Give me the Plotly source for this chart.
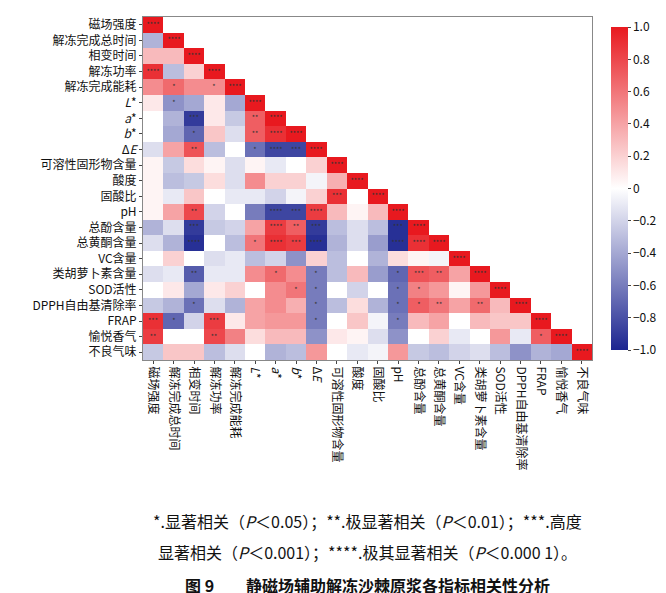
import plotly.graph_objects as go

labels = ["磁场强度", "解冻完成总时间", "相变时间", "解冻功率", "解冻完成能耗",
          "<i>L</i>*", "<i>a</i>*", "<i>b</i>*", "Δ<i>E</i>", "可溶性固形物含量",
          "酸度", "固酸比", "pH", "总酚含量", "总黄酮含量", "VC含量",
          "类胡萝卜素含量", "SOD活性", "DPPH自由基清除率", "FRAP", "愉悦香气", "不良气味"]

# lower triangle of the correlation matrix, row by row
corr = [
    [1],
    [-0.35, 1],
    [0.3, 0.3, 1],
    [0.9, -0.3, 0.2, 1],
    [0.5, 0.65, 0.5, 0.5, 1],
    [0.1, -0.5, -0.4, 0.1, -0.4, 1],
    [0, -0.35, -0.9, 0.1, -0.25, 0.7, 1],
    [0, -0.4, -0.7, 0.25, -0.15, 0.7, 0.9, 1],
    [-0.15, 0.4, 0.75, -0.3, 0, -0.65, -0.85, -0.85, 1],
    [0.05, -0.25, 0.15, 0.05, -0.15, 0.05, -0.1, 0, 0.2, 1],
    [0.05, -0.3, -0.25, 0.15, -0.15, 0.5, 0.2, 0.2, -0.05, 0.35, 1],
    [0.05, -0.1, 0.25, 0, -0.1, -0.1, -0.2, -0.05, 0.2, 0.9, 0, 1],
    [0.05, 0.4, 0.8, -0.2, 0, -0.6, -0.85, -0.85, 0.85, 0.3, 0.05, 0.3, 1],
    [-0.35, -0.15, -0.9, -0.25, -0.2, 0.4, 0.85, 0.7, -0.9, -0.3, -0.15, -0.3, -0.95, 1],
    [-0.15, -0.35, -0.95, 0, -0.3, 0.6, 0.9, 0.85, -0.95, -0.35, -0.15, -0.45, -0.95, 0.9, 1],
    [0, 0.2, 0, -0.15, -0.1, -0.3, -0.2, -0.5, 0.2, -0.3, 0, -0.35, 0.15, 0.05, -0.05, 1],
    [-0.15, -0.1, -0.75, -0.1, -0.1, 0.5, 0.65, 0.5, -0.6, -0.3, 0.3, -0.45, -0.7, 0.75, 0.7, 0.4, 1],
    [0, 0.1, -0.4, 0.1, 0.2, 0, 0.5, 0.6, -0.6, 0, -0.2, 0, -0.65, 0.55, 0.45, 0.05, 0.45, 1],
    [-0.25, -0.35, -0.65, -0.15, -0.35, 0.4, 0.5, 0.35, -0.6, -0.3, 0.15, -0.35, -0.65, 0.7, 0.6, 0.4, 0.65, 0.3, 1],
    [0.9, -0.7, -0.2, 0.85, 0.1, 0.4, 0.45, 0.45, -0.6, 0, 0.25, -0.05, -0.6, 0.3, 0.4, 0, 0.3, 0.25, 0.25, 1],
    [0.85, 0, 0, 0.8, 0.55, 0.15, 0.3, 0.3, -0.5, 0.1, 0.05, -0.15, -0.5, 0, 0.2, -0.1, 0, 0.45, -0.1, 0.7, 1],
    [-0.25, 0.25, 0.25, -0.3, -0.15, 0, -0.35, -0.3, 0.45, 0, -0.1, -0.05, 0.45, -0.25, -0.3, -0.2, -0.15, -0.3, -0.5, -0.35, -0.4, 1],
]

# significance marks (row, col, stars)
sig = [
    (3, 0, "****"), (4, 1, "*"), (4, 3, "*"), (5, 1, "*"),
    (6, 2, "***"), (6, 5, "**"), (6, 6, "****"), (7, 2, "*"), (7, 5, "**"), (7, 6, "****"),
    (8, 2, "**"), (8, 5, "*"), (8, 6, "****"), (8, 7, "***"),
    (11, 9, "***"), (12, 2, "**"), (12, 6, "****"), (12, 7, "***"), (12, 8, "****"),
    (13, 2, "***"), (13, 6, "****"), (13, 7, "**"), (13, 8, "***"), (13, 12, "***"),
    (14, 2, "****"), (14, 5, "*"), (14, 6, "****"), (14, 7, "***"), (14, 8, "****"),
    (14, 12, "****"), (14, 13, "****"),
    (16, 2, "**"), (16, 6, "*"), (16, 8, "*"), (16, 12, "*"), (16, 13, "***"), (16, 14, "**"),
    (17, 7, "*"), (17, 8, "*"), (17, 12, "*"), (17, 13, "*"),
    (18, 2, "*"), (18, 8, "*"), (18, 12, "*"), (18, 13, "*"), (18, 14, "**"), (18, 16, "**"),
    (19, 0, "***"), (19, 1, "*"), (19, 3, "***"), (19, 8, "*"), (19, 12, "*"),
    (20, 0, "**"), (20, 3, "**"), (20, 19, "*"),
]

n = len(labels)
z = [[corr[i][j] if j <= i else None for j in range(n)] for i in range(n)]
txt = [["" for j in range(n)] for i in range(n)]
for i in range(n):
    txt[i][i] = "****"
for i, j, s in sig:
    txt[i][j] = s

fig = go.Figure(go.Heatmap(
    z=z, x=labels, y=labels, text=txt, texttemplate="%{text}",
    textfont=dict(size=7, color="#333"),
    zmin=-1, zmax=1, xgap=0, ygap=0,
    colorscale=[[0, "#1c2590"], [0.5, "#ffffff"], [1, "#e8191f"]],
    colorbar=dict(x=1.02, xanchor="left", y=0.5, len=1.0, thickness=17,
                  tickvals=[-1, -0.8, -0.6, -0.4, -0.2, 0, 0.2, 0.4, 0.6, 0.8, 1],
                  ticktext=["−1.0", "−0.8", "−0.6", "−0.4", "−0.2", "0", "0.2", "0.4", "0.6", "0.8", "1.0"],
                  tickfont=dict(size=12, color="#111"), outlinewidth=0, ticks="outside", ticklen=3),
    hoverongaps=False,
))

font = "Noto Sans CJK SC, Liberation Serif"
fig.update_layout(
    width=666, height=593, margin=dict(l=135, r=78, t=7, b=241),
    plot_bgcolor="white", paper_bgcolor="white",
    font=dict(family=font, size=12, color="#111"),
    xaxis=dict(tickangle=90, showgrid=False, mirror=True, showline=True, linecolor="#888",
               ticks="outside", ticklen=3, tickfont=dict(size=12)),
    yaxis=dict(autorange="reversed", showgrid=False, mirror=True, showline=True, linecolor="#888",
               ticks="outside", ticklen=3, tickfont=dict(size=12)),
)

captions = [
    ("*.显著相关（<i>P</i>＜0.05）；**.极显著相关（<i>P</i>＜0.01）；***.高度", -0.47),
    ("显著相关（<i>P</i>＜0.001）；****.极其显著相关（<i>P</i>＜0.000 1）。", -0.56),
    ("<b>图 9　　静磁场辅助解冻沙棘原浆各指标相关性分析</b>", -0.655),
]
for t, yy in captions:
    fig.add_annotation(x=0.5, y=yy, xref="paper", yref="paper", showarrow=False, text=t,
                       font=dict(size=16, family=font), xanchor="center", yanchor="middle")

fig.write_html("out.html")
